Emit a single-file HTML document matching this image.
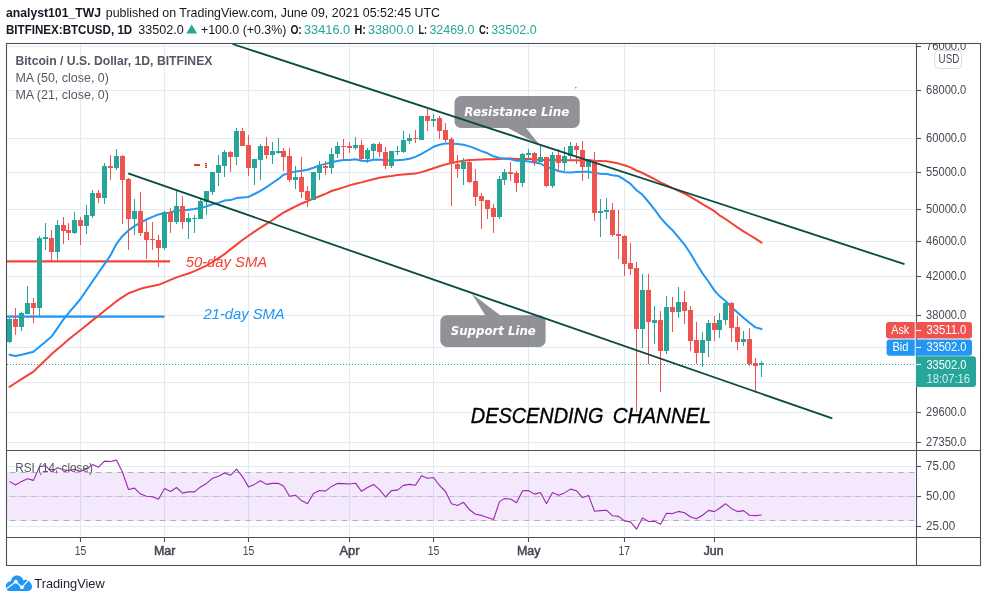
<!DOCTYPE html>
<html lang="en"><head><meta charset="utf-8"><title>BTCUSD chart</title>
<style>html,body{margin:0;padding:0;background:#fff}svg{display:block}text{font-family:"Liberation Sans",sans-serif}.dj{font-family:"DejaVu Sans","Liberation Sans",sans-serif}</style>
</head><body>
<svg width="987" height="602" viewBox="0 0 987 602">
<rect width="987" height="602" fill="#fff"/>
<defs><clipPath id="cm"><rect x="6.5" y="43.5" width="909.5" height="407"/></clipPath><clipPath id="cr"><rect x="6.5" y="450.5" width="909.5" height="87"/></clipPath></defs>
<g stroke="#e2ebf1" stroke-width="1" fill="none">
<line x1="80.5" y1="44" x2="80.5" y2="537"/>
<line x1="164.5" y1="44" x2="164.5" y2="537"/>
<line x1="248.5" y1="44" x2="248.5" y2="537"/>
<line x1="349.5" y1="44" x2="349.5" y2="537"/>
<line x1="433.5" y1="44" x2="433.5" y2="537"/>
<line x1="528.5" y1="44" x2="528.5" y2="537"/>
<line x1="624.5" y1="44" x2="624.5" y2="537"/>
<line x1="714.5" y1="44" x2="714.5" y2="537"/>
<line x1="6.5" y1="46.5" x2="916" y2="46.5"/>
<line x1="6.5" y1="90.5" x2="916" y2="90.5"/>
<line x1="6.5" y1="138.5" x2="916" y2="138.5"/>
<line x1="6.5" y1="172.5" x2="916" y2="172.5"/>
<line x1="6.5" y1="209.5" x2="916" y2="209.5"/>
<line x1="6.5" y1="241.5" x2="916" y2="241.5"/>
<line x1="6.5" y1="276.5" x2="916" y2="276.5"/>
<line x1="6.5" y1="315.5" x2="916" y2="315.5"/>
<line x1="6.5" y1="347.5" x2="916" y2="347.5"/>
<line x1="6.5" y1="382.5" x2="916" y2="382.5"/>
<line x1="6.5" y1="412.5" x2="916" y2="412.5"/>
<line x1="6.5" y1="442.5" x2="916" y2="442.5"/>
<line x1="6.5" y1="466.5" x2="916" y2="466.5"/>
<line x1="6.5" y1="496.5" x2="916" y2="496.5"/>
<line x1="6.5" y1="526.5" x2="916" y2="526.5"/>
</g>
<rect x="7" y="472" width="908" height="49" fill="#a050e8" fill-opacity="0.13"/>
<g stroke="#a9a9b4" stroke-width="0.9" stroke-dasharray="5.6,5.1" stroke-dashoffset="7.2" fill="none">
<line x1="6.5" y1="472.5" x2="915" y2="472.5"/>
<line x1="6.5" y1="496.5" x2="915" y2="496.5" stroke-opacity="0.6"/>
<line x1="6.5" y1="520.5" x2="915" y2="520.5"/>
</g>
<g clip-path="url(#cm)">
<line x1="6" y1="261.4" x2="170" y2="261.4" stroke="#f44336" stroke-width="2.2"/>
<line x1="6" y1="316.6" x2="164.5" y2="316.6" stroke="#2196f3" stroke-width="2.2"/>
<line x1="7" y1="364.5" x2="916" y2="364.5" stroke="#26a69a" stroke-width="1" stroke-dasharray="1,2" shape-rendering="crispEdges"/>
<polyline points="9.5,386.8 15.5,383 21.5,379.2 27.5,375.4 33.5,371.6 39.5,365.8 45.5,360 51.5,354.2 57.5,349 63.5,343.9 68.5,339.6 74.5,334.7 80.5,330 86.5,325.2 92.5,320.4 98.5,315.7 104.5,310.8 110.5,306 116.5,301.2 122.5,297.1 128.5,293.3 134.5,291.1 140.5,288.8 146.5,287.2 152.5,286 158.5,284.8 164.5,282.3 170.5,279.8 176.5,277.4 182.5,275.4 188.5,273.5 194.5,271.1 200.5,268.4 206.5,265.6 212.5,262 218.5,258.1 224.5,254.2 230.5,249.4 236.5,244.6 242.5,240 248.5,235.8 254.5,231.6 260.5,227.7 266.5,223.9 272.5,220 278.5,215.9 283.5,212.6 289.5,209.5 295.5,206.4 301.5,203.5 307.5,201.2 313.5,198.7 319.5,196.3 325.5,193.8 331.5,191 337.5,189.2 343.5,187.4 349.5,185.4 355.5,183.8 361.5,182.4 367.5,180.7 373.5,179.2 379.5,177.8 385.5,176.8 391.5,176 397.5,175 403.5,174.5 409.5,173.9 415.5,173.5 421.5,172.1 427.5,170.2 433.5,168.3 439.5,166.3 445.5,164.4 451.5,163.1 457.5,161.7 463.5,160.7 469.5,160 475.5,159.8 481.5,159.4 487.5,159.3 493.5,159.3 499.5,158.9 504.5,158.5 510.5,158.5 516.5,158.9 522.5,158.9 528.5,158.8 534.5,159.5 540.5,159.7 546.5,160.1 552.5,160 558.5,160.3 564.5,160.3 570.5,160.2 576.5,160.2 582.5,160.4 588.5,160 594.5,160.7 600.5,161 606.5,161.2 612.5,162.3 618.5,163.6 624.5,165.3 630.5,167.4 636.5,170.5 642.5,173 648.5,176 654.5,179.1 660.5,182.3 666.5,185.1 672.5,188.2 678.5,190.9 684.5,193.5 690.5,196.8 696.5,200.4 702.5,204.1 708.5,207.6 714.5,211.2 719.5,215.3 725.5,219 731.5,223.2 737.5,227.4 743.5,231.3 749.5,235 755.5,238.7 761.5,242.6" fill="none" stroke="#f44336" stroke-width="2" stroke-linejoin="round" stroke-linecap="round"/>
<polyline points="9.5,354.7 15.5,355.9 21.5,354.8 27.5,353.3 33.5,351.7 39.5,346.7 45.5,341.7 51.5,336.6 57.5,328.1 63.5,319.3 68.5,313.1 74.5,306.1 80.5,299 86.5,290.1 92.5,281.4 98.5,272.7 104.5,264.1 110.5,255.2 116.5,243.8 122.5,235.9 128.5,230.4 134.5,226.1 140.5,222.5 146.5,219.5 152.5,216.9 158.5,214.4 164.5,213.2 170.5,212.5 176.5,210.4 182.5,210.3 188.5,209.7 194.5,209 200.5,208.1 206.5,206.4 212.5,204.3 218.5,202.9 224.5,200.6 230.5,200.1 236.5,198.1 242.5,197.5 248.5,196.9 254.5,194 260.5,190.8 266.5,187.1 272.5,183 278.5,178.9 283.5,174.8 289.5,173.4 295.5,171.4 301.5,170.8 307.5,169.8 313.5,167.8 319.5,165.4 325.5,163.9 331.5,162.2 337.5,161 343.5,160.1 349.5,159.9 355.5,159.3 361.5,160.7 367.5,160.9 373.5,159.8 379.5,159.4 385.5,160.4 391.5,160.2 397.5,160.2 403.5,159.7 409.5,158.8 415.5,156.9 421.5,153.9 427.5,150.5 433.5,146.8 439.5,144.8 445.5,143.6 451.5,143.4 457.5,144.1 463.5,144.8 469.5,146.4 475.5,148.6 481.5,151.1 487.5,153.3 493.5,156.3 499.5,157.9 504.5,158.8 510.5,159.2 516.5,160.7 522.5,160.8 528.5,161.5 534.5,162.6 540.5,163.5 546.5,167 552.5,168.7 558.5,171 564.5,172.3 570.5,172.6 576.5,171.9 582.5,171.8 588.5,171.7 594.5,173.1 600.5,173.7 606.5,174.1 612.5,175.3 618.5,176.1 624.5,179.7 630.5,183.9 636.5,190.2 642.5,194.8 648.5,202 654.5,209.4 660.5,217.6 666.5,224.5 672.5,230.2 678.5,237.4 684.5,244.6 690.5,253.5 696.5,263.7 702.5,273.4 708.5,281.5 714.5,290.6 719.5,296.1 725.5,301 731.5,307.2 737.5,312.6 743.5,317.8 749.5,322.7 755.5,327.4 761.5,329" fill="none" stroke="#2196f3" stroke-width="2" stroke-linejoin="round" stroke-linecap="round"/>
<g stroke-width="1"><line x1="9.5" y1="318" x2="9.5" y2="343" stroke="#26a69a"/><line x1="15.5" y1="308" x2="15.5" y2="335" stroke="#ef5350"/><line x1="21.5" y1="312" x2="21.5" y2="331" stroke="#26a69a"/><line x1="27.5" y1="286" x2="27.5" y2="314" stroke="#26a69a"/><line x1="33.5" y1="298" x2="33.5" y2="323" stroke="#ef5350"/><line x1="39.5" y1="236" x2="39.5" y2="317" stroke="#26a69a"/><line x1="45.5" y1="223" x2="45.5" y2="250" stroke="#26a69a"/><line x1="51.5" y1="230" x2="51.5" y2="261" stroke="#ef5350"/><line x1="57.5" y1="220" x2="57.5" y2="260" stroke="#26a69a"/><line x1="63.5" y1="217" x2="63.5" y2="244" stroke="#ef5350"/><line x1="68.5" y1="223" x2="68.5" y2="240" stroke="#ef5350"/><line x1="74.5" y1="212" x2="74.5" y2="234" stroke="#26a69a"/><line x1="80.5" y1="217" x2="80.5" y2="245" stroke="#ef5350"/><line x1="86.5" y1="205" x2="86.5" y2="234" stroke="#26a69a"/><line x1="92.5" y1="190" x2="92.5" y2="218" stroke="#26a69a"/><line x1="98.5" y1="190" x2="98.5" y2="203" stroke="#ef5350"/><line x1="104.5" y1="163" x2="104.5" y2="204" stroke="#26a69a"/><line x1="110.5" y1="155" x2="110.5" y2="180" stroke="#ef5350"/><line x1="116.5" y1="149" x2="116.5" y2="170" stroke="#26a69a"/><line x1="122.5" y1="155" x2="122.5" y2="224" stroke="#ef5350"/><line x1="128.5" y1="178" x2="128.5" y2="250" stroke="#ef5350"/><line x1="134.5" y1="199" x2="134.5" y2="235" stroke="#26a69a"/><line x1="140.5" y1="192" x2="140.5" y2="236" stroke="#ef5350"/><line x1="146.5" y1="221" x2="146.5" y2="259" stroke="#ef5350"/><line x1="152.5" y1="222" x2="152.5" y2="250" stroke="#ef5350"/><line x1="158.5" y1="235" x2="158.5" y2="267" stroke="#ef5350"/><line x1="164.5" y1="211" x2="164.5" y2="250" stroke="#26a69a"/><line x1="170.5" y1="208" x2="170.5" y2="233" stroke="#ef5350"/><line x1="176.5" y1="190" x2="176.5" y2="224" stroke="#26a69a"/><line x1="182.5" y1="196" x2="182.5" y2="229" stroke="#ef5350"/><line x1="188.5" y1="213" x2="188.5" y2="239" stroke="#26a69a"/><line x1="194.5" y1="215" x2="194.5" y2="233" stroke="#26a69a"/><line x1="200.5" y1="198" x2="200.5" y2="219" stroke="#26a69a"/><line x1="206.5" y1="191" x2="206.5" y2="215" stroke="#26a69a"/><line x1="212.5" y1="172" x2="212.5" y2="195" stroke="#26a69a"/><line x1="218.5" y1="155" x2="218.5" y2="186" stroke="#26a69a"/><line x1="224.5" y1="150" x2="224.5" y2="177" stroke="#26a69a"/><line x1="230.5" y1="151" x2="230.5" y2="172" stroke="#ef5350"/><line x1="236.5" y1="128" x2="236.5" y2="165" stroke="#26a69a"/><line x1="242.5" y1="128" x2="242.5" y2="146" stroke="#ef5350"/><line x1="248.5" y1="135" x2="248.5" y2="176" stroke="#ef5350"/><line x1="254.5" y1="159" x2="254.5" y2="185" stroke="#26a69a"/><line x1="260.5" y1="144" x2="260.5" y2="180" stroke="#26a69a"/><line x1="266.5" y1="137" x2="266.5" y2="159" stroke="#ef5350"/><line x1="272.5" y1="142" x2="272.5" y2="164" stroke="#26a69a"/><line x1="278.5" y1="138" x2="278.5" y2="154" stroke="#26a69a"/><line x1="283.5" y1="148" x2="283.5" y2="171" stroke="#ef5350"/><line x1="289.5" y1="148" x2="289.5" y2="182" stroke="#ef5350"/><line x1="295.5" y1="166" x2="295.5" y2="189" stroke="#26a69a"/><line x1="301.5" y1="157" x2="301.5" y2="198" stroke="#ef5350"/><line x1="307.5" y1="186" x2="307.5" y2="207" stroke="#ef5350"/><line x1="313.5" y1="172" x2="313.5" y2="200" stroke="#26a69a"/><line x1="319.5" y1="161" x2="319.5" y2="180" stroke="#26a69a"/><line x1="325.5" y1="161" x2="325.5" y2="175" stroke="#ef5350"/><line x1="331.5" y1="148" x2="331.5" y2="174" stroke="#26a69a"/><line x1="337.5" y1="142" x2="337.5" y2="158" stroke="#26a69a"/><line x1="343.5" y1="139" x2="343.5" y2="160" stroke="#ef5350"/><line x1="349.5" y1="142" x2="349.5" y2="153" stroke="#ef5350"/><line x1="355.5" y1="137" x2="355.5" y2="150" stroke="#26a69a"/><line x1="361.5" y1="140" x2="361.5" y2="160" stroke="#ef5350"/><line x1="367.5" y1="148" x2="367.5" y2="163" stroke="#26a69a"/><line x1="373.5" y1="143" x2="373.5" y2="159" stroke="#26a69a"/><line x1="379.5" y1="142" x2="379.5" y2="157" stroke="#ef5350"/><line x1="385.5" y1="147" x2="385.5" y2="169" stroke="#ef5350"/><line x1="391.5" y1="151" x2="391.5" y2="168" stroke="#26a69a"/><line x1="397.5" y1="146" x2="397.5" y2="155" stroke="#26a69a"/><line x1="403.5" y1="131" x2="403.5" y2="153" stroke="#26a69a"/><line x1="409.5" y1="134" x2="409.5" y2="144" stroke="#26a69a"/><line x1="415.5" y1="130" x2="415.5" y2="143" stroke="#ef5350"/><line x1="421.5" y1="116" x2="421.5" y2="140" stroke="#26a69a"/><line x1="427.5" y1="109" x2="427.5" y2="131" stroke="#ef5350"/><line x1="433.5" y1="114" x2="433.5" y2="127" stroke="#26a69a"/><line x1="439.5" y1="116" x2="439.5" y2="139" stroke="#ef5350"/><line x1="445.5" y1="123" x2="445.5" y2="142" stroke="#ef5350"/><line x1="451.5" y1="137" x2="451.5" y2="206" stroke="#ef5350"/><line x1="457.5" y1="155" x2="457.5" y2="178" stroke="#ef5350"/><line x1="463.5" y1="158" x2="463.5" y2="185" stroke="#26a69a"/><line x1="469.5" y1="161" x2="469.5" y2="183" stroke="#ef5350"/><line x1="475.5" y1="169" x2="475.5" y2="206" stroke="#ef5350"/><line x1="481.5" y1="193" x2="481.5" y2="229" stroke="#ef5350"/><line x1="487.5" y1="200" x2="487.5" y2="219" stroke="#ef5350"/><line x1="493.5" y1="204" x2="493.5" y2="233" stroke="#ef5350"/><line x1="499.5" y1="176" x2="499.5" y2="219" stroke="#26a69a"/><line x1="504.5" y1="169" x2="504.5" y2="185" stroke="#26a69a"/><line x1="510.5" y1="162" x2="510.5" y2="181" stroke="#ef5350"/><line x1="516.5" y1="171" x2="516.5" y2="192" stroke="#ef5350"/><line x1="522.5" y1="153" x2="522.5" y2="187" stroke="#26a69a"/><line x1="528.5" y1="149" x2="528.5" y2="159" stroke="#26a69a"/><line x1="534.5" y1="152" x2="534.5" y2="166" stroke="#ef5350"/><line x1="540.5" y1="145" x2="540.5" y2="162" stroke="#26a69a"/><line x1="546.5" y1="157" x2="546.5" y2="187" stroke="#ef5350"/><line x1="552.5" y1="152" x2="552.5" y2="188" stroke="#26a69a"/><line x1="558.5" y1="149" x2="558.5" y2="171" stroke="#ef5350"/><line x1="564.5" y1="147" x2="564.5" y2="171" stroke="#26a69a"/><line x1="570.5" y1="142" x2="570.5" y2="160" stroke="#26a69a"/><line x1="576.5" y1="143" x2="576.5" y2="164" stroke="#ef5350"/><line x1="582.5" y1="141" x2="582.5" y2="181" stroke="#ef5350"/><line x1="588.5" y1="159" x2="588.5" y2="179" stroke="#26a69a"/><line x1="594.5" y1="152" x2="594.5" y2="221" stroke="#ef5350"/><line x1="600.5" y1="199" x2="600.5" y2="237" stroke="#26a69a"/><line x1="606.5" y1="198" x2="606.5" y2="219" stroke="#26a69a"/><line x1="612.5" y1="203" x2="612.5" y2="237" stroke="#ef5350"/><line x1="618.5" y1="210" x2="618.5" y2="259" stroke="#ef5350"/><line x1="624.5" y1="235" x2="624.5" y2="276" stroke="#ef5350"/><line x1="630.5" y1="243" x2="630.5" y2="275" stroke="#ef5350"/><line x1="636.5" y1="262" x2="636.5" y2="412" stroke="#ef5350"/><line x1="642.5" y1="274" x2="642.5" y2="348" stroke="#26a69a"/><line x1="648.5" y1="274" x2="648.5" y2="364" stroke="#ef5350"/><line x1="654.5" y1="306" x2="654.5" y2="344" stroke="#26a69a"/><line x1="660.5" y1="311" x2="660.5" y2="392" stroke="#ef5350"/><line x1="666.5" y1="296" x2="666.5" y2="354" stroke="#26a69a"/><line x1="672.5" y1="297" x2="672.5" y2="332" stroke="#ef5350"/><line x1="678.5" y1="287" x2="678.5" y2="318" stroke="#26a69a"/><line x1="684.5" y1="291" x2="684.5" y2="324" stroke="#ef5350"/><line x1="690.5" y1="306" x2="690.5" y2="351" stroke="#ef5350"/><line x1="696.5" y1="322" x2="696.5" y2="364" stroke="#ef5350"/><line x1="702.5" y1="332" x2="702.5" y2="367" stroke="#26a69a"/><line x1="708.5" y1="320" x2="708.5" y2="357" stroke="#26a69a"/><line x1="714.5" y1="316" x2="714.5" y2="341" stroke="#ef5350"/><line x1="719.5" y1="313" x2="719.5" y2="338" stroke="#26a69a"/><line x1="725.5" y1="300" x2="725.5" y2="325" stroke="#26a69a"/><line x1="731.5" y1="302" x2="731.5" y2="342" stroke="#ef5350"/><line x1="737.5" y1="316" x2="737.5" y2="350" stroke="#ef5350"/><line x1="743.5" y1="331" x2="743.5" y2="346" stroke="#26a69a"/><line x1="749.5" y1="328" x2="749.5" y2="366" stroke="#ef5350"/><line x1="755.5" y1="358" x2="755.5" y2="393" stroke="#ef5350"/><line x1="761.5" y1="361" x2="761.5" y2="377" stroke="#26a69a"/></g>
<g><rect x="7" y="319" width="5" height="23" fill="#26a69a"/><rect x="13" y="319" width="5" height="8" fill="#ef5350"/><rect x="19" y="313" width="5" height="14" fill="#26a69a"/><rect x="25" y="303" width="5" height="11" fill="#26a69a"/><rect x="31" y="303" width="5" height="5" fill="#ef5350"/><rect x="37" y="238" width="5" height="70" fill="#26a69a"/><rect x="43" y="237" width="5" height="2" fill="#26a69a"/><rect x="49" y="238" width="5" height="14" fill="#ef5350"/><rect x="55" y="225" width="5" height="27" fill="#26a69a"/><rect x="61" y="225" width="5" height="6" fill="#ef5350"/><rect x="66" y="230" width="5" height="3" fill="#ef5350"/><rect x="72" y="220" width="5" height="13" fill="#26a69a"/><rect x="78" y="220" width="5" height="6" fill="#ef5350"/><rect x="84" y="215" width="5" height="11" fill="#26a69a"/><rect x="90" y="193" width="5" height="23" fill="#26a69a"/><rect x="96" y="193" width="5" height="5" fill="#ef5350"/><rect x="102" y="166" width="5" height="32" fill="#26a69a"/><rect x="108" y="166" width="5" height="2" fill="#ef5350"/><rect x="114" y="156" width="5" height="12" fill="#26a69a"/><rect x="120" y="156" width="5" height="24" fill="#ef5350"/><rect x="126" y="179" width="5" height="40" fill="#ef5350"/><rect x="132" y="211" width="5" height="8" fill="#26a69a"/><rect x="138" y="211" width="5" height="22" fill="#ef5350"/><rect x="144" y="232" width="5" height="8" fill="#ef5350"/><rect x="150" y="239" width="5" height="1" fill="#ef5350"/><rect x="156" y="240" width="5" height="8" fill="#ef5350"/><rect x="162" y="212" width="5" height="36" fill="#26a69a"/><rect x="168" y="212" width="5" height="10" fill="#ef5350"/><rect x="174" y="206" width="5" height="16" fill="#26a69a"/><rect x="180" y="206" width="5" height="16" fill="#ef5350"/><rect x="186" y="218" width="5" height="4" fill="#26a69a"/><rect x="192" y="218" width="5" height="1" fill="#26a69a"/><rect x="198" y="201" width="5" height="18" fill="#26a69a"/><rect x="204" y="191" width="5" height="11" fill="#26a69a"/><rect x="210" y="172" width="5" height="20" fill="#26a69a"/><rect x="216" y="165" width="5" height="8" fill="#26a69a"/><rect x="222" y="152" width="5" height="14" fill="#26a69a"/><rect x="228" y="152" width="5" height="5" fill="#ef5350"/><rect x="234" y="131" width="5" height="26" fill="#26a69a"/><rect x="240" y="131" width="5" height="15" fill="#ef5350"/><rect x="246" y="145" width="5" height="23" fill="#ef5350"/><rect x="252" y="159" width="5" height="9" fill="#26a69a"/><rect x="258" y="146" width="5" height="14" fill="#26a69a"/><rect x="264" y="146" width="5" height="9" fill="#ef5350"/><rect x="270" y="151" width="5" height="4" fill="#26a69a"/><rect x="276" y="151" width="5" height="2" fill="#26a69a"/><rect x="281" y="151" width="5" height="6" fill="#ef5350"/><rect x="287" y="156" width="5" height="24" fill="#ef5350"/><rect x="293" y="177" width="5" height="3" fill="#26a69a"/><rect x="299" y="177" width="5" height="15" fill="#ef5350"/><rect x="305" y="191" width="5" height="9" fill="#ef5350"/><rect x="311" y="172" width="5" height="28" fill="#26a69a"/><rect x="317" y="166" width="5" height="7" fill="#26a69a"/><rect x="323" y="166" width="5" height="2" fill="#ef5350"/><rect x="329" y="154" width="5" height="14" fill="#26a69a"/><rect x="335" y="146" width="5" height="8" fill="#26a69a"/><rect x="341" y="146" width="5" height="1" fill="#ef5350"/><rect x="347" y="146" width="5" height="2" fill="#ef5350"/><rect x="353" y="145" width="5" height="3" fill="#26a69a"/><rect x="359" y="145" width="5" height="14" fill="#ef5350"/><rect x="365" y="150" width="5" height="9" fill="#26a69a"/><rect x="371" y="144" width="5" height="7" fill="#26a69a"/><rect x="377" y="144" width="5" height="8" fill="#ef5350"/><rect x="383" y="152" width="5" height="14" fill="#ef5350"/><rect x="389" y="151" width="5" height="15" fill="#26a69a"/><rect x="395" y="151" width="5" height="1" fill="#26a69a"/><rect x="401" y="140" width="5" height="12" fill="#26a69a"/><rect x="407" y="138" width="5" height="3" fill="#26a69a"/><rect x="413" y="138" width="5" height="1" fill="#ef5350"/><rect x="419" y="116" width="5" height="24" fill="#26a69a"/><rect x="425" y="116" width="5" height="5" fill="#ef5350"/><rect x="431" y="119" width="5" height="2" fill="#26a69a"/><rect x="437" y="118" width="5" height="13" fill="#ef5350"/><rect x="443" y="130" width="5" height="10" fill="#ef5350"/><rect x="449" y="139" width="5" height="25" fill="#ef5350"/><rect x="455" y="164" width="5" height="5" fill="#ef5350"/><rect x="461" y="162" width="5" height="7" fill="#26a69a"/><rect x="467" y="162" width="5" height="20" fill="#ef5350"/><rect x="473" y="181" width="5" height="16" fill="#ef5350"/><rect x="479" y="196" width="5" height="5" fill="#ef5350"/><rect x="485" y="200" width="5" height="9" fill="#ef5350"/><rect x="491" y="208" width="5" height="9" fill="#ef5350"/><rect x="497" y="179" width="5" height="38" fill="#26a69a"/><rect x="502" y="172" width="5" height="8" fill="#26a69a"/><rect x="508" y="172" width="5" height="2" fill="#ef5350"/><rect x="514" y="173" width="5" height="10" fill="#ef5350"/><rect x="520" y="154" width="5" height="29" fill="#26a69a"/><rect x="526" y="153" width="5" height="2" fill="#26a69a"/><rect x="532" y="153" width="5" height="9" fill="#ef5350"/><rect x="538" y="157" width="5" height="5" fill="#26a69a"/><rect x="544" y="157" width="5" height="29" fill="#ef5350"/><rect x="550" y="155" width="5" height="31" fill="#26a69a"/><rect x="556" y="155" width="5" height="8" fill="#ef5350"/><rect x="562" y="156" width="5" height="7" fill="#26a69a"/><rect x="568" y="146" width="5" height="10" fill="#26a69a"/><rect x="574" y="146" width="5" height="4" fill="#ef5350"/><rect x="580" y="150" width="5" height="17" fill="#ef5350"/><rect x="586" y="160" width="5" height="7" fill="#26a69a"/><rect x="592" y="160" width="5" height="53" fill="#ef5350"/><rect x="598" y="211" width="5" height="2" fill="#26a69a"/><rect x="604" y="210" width="5" height="2" fill="#26a69a"/><rect x="610" y="210" width="5" height="25" fill="#ef5350"/><rect x="616" y="234" width="5" height="2" fill="#ef5350"/><rect x="622" y="236" width="5" height="28" fill="#ef5350"/><rect x="628" y="263" width="5" height="6" fill="#ef5350"/><rect x="634" y="268" width="5" height="61" fill="#ef5350"/><rect x="640" y="290" width="5" height="39" fill="#26a69a"/><rect x="646" y="290" width="5" height="32" fill="#ef5350"/><rect x="652" y="320" width="5" height="3" fill="#26a69a"/><rect x="658" y="320" width="5" height="31" fill="#ef5350"/><rect x="664" y="307" width="5" height="44" fill="#26a69a"/><rect x="670" y="307" width="5" height="5" fill="#ef5350"/><rect x="676" y="302" width="5" height="10" fill="#26a69a"/><rect x="682" y="302" width="5" height="9" fill="#ef5350"/><rect x="688" y="310" width="5" height="31" fill="#ef5350"/><rect x="694" y="340" width="5" height="13" fill="#ef5350"/><rect x="700" y="340" width="5" height="13" fill="#26a69a"/><rect x="706" y="323" width="5" height="18" fill="#26a69a"/><rect x="712" y="323" width="5" height="7" fill="#ef5350"/><rect x="717" y="320" width="5" height="10" fill="#26a69a"/><rect x="723" y="303" width="5" height="17" fill="#26a69a"/><rect x="729" y="303" width="5" height="25" fill="#ef5350"/><rect x="735" y="327" width="5" height="15" fill="#ef5350"/><rect x="741" y="339" width="5" height="3" fill="#26a69a"/><rect x="747" y="339" width="5" height="25" fill="#ef5350"/><rect x="753" y="363" width="5" height="3" fill="#ef5350"/><rect x="759" y="363" width="5" height="2" fill="#26a69a"/></g>
<rect x="194" y="164" width="6" height="2" fill="#f0352b"/>
<g fill="#f0352b"><rect x="205" y="163" width="2" height="1.4"/><rect x="205" y="164.9" width="2" height="1.3"/><rect x="205" y="166.6" width="2" height="1.4"/></g>
<circle cx="575.8" cy="87.8" r="0.8" fill="#26a69a"/>
<g fill="#76777d" fill-opacity="0.8">
<path d="M461,96 H573.2 a6.5,6.5 0 0 1 6.5,6.5 V121.5 a6.5,6.5 0 0 1 -6.5,6.5 H526 L539.7,145 L508,128 H461 a6.5,6.5 0 0 1 -6.5,-6.5 V102.5 a6.5,6.5 0 0 1 6.5,-6.5 Z"/>
<path d="M446.8,315.2 H485.2 L471.9,293.8 L500.2,315.2 H539.1 a6.5,6.5 0 0 1 6.5,6.5 V340.4 a6.5,6.5 0 0 1 -6.5,6.5 H446.8 a6.5,6.5 0 0 1 -6.5,-6.5 V321.7 a6.5,6.5 0 0 1 6.5,-6.5 Z"/>
</g>
<line x1="232.5" y1="44" x2="904.5" y2="264.2" stroke="#0b4a3f" stroke-width="1.8"/>
<line x1="128.2" y1="173.3" x2="832.3" y2="418.4" stroke="#0b4a3f" stroke-width="1.8"/>
<text class="dj" x="464.3" y="115.8" font-size="12" font-weight="bold" font-style="italic" fill="#fff" textLength="105" lengthAdjust="spacingAndGlyphs">Resistance Line</text>
<text class="dj" x="450.8" y="334.8" font-size="12" font-weight="bold" font-style="italic" fill="#fff" textLength="85" lengthAdjust="spacingAndGlyphs">Support Line</text>
<text x="185.7" y="266.8" font-size="15" font-style="italic" fill="#f44336" textLength="81.5" lengthAdjust="spacingAndGlyphs">50-day SMA</text>
<text x="203.5" y="318.9" font-size="15" font-style="italic" fill="#2196f3" textLength="81.2" lengthAdjust="spacingAndGlyphs">21-day SMA</text>
<text y="422.7" font-size="22.5" font-style="italic" fill="#000" stroke="#000" stroke-width="0.35"><tspan x="470.8" textLength="132.6" lengthAdjust="spacingAndGlyphs">DESCENDING</tspan><tspan> </tspan><tspan x="612.7" textLength="98.3" lengthAdjust="spacingAndGlyphs">CHANNEL</tspan></text>
<text x="15.4" y="64.5" font-size="12" font-weight="bold" fill="#555862" textLength="197" lengthAdjust="spacingAndGlyphs">Bitcoin / U.S. Dollar, 1D, BITFINEX</text>
<text x="15.4" y="82" font-size="12" fill="#555862" textLength="93.5" lengthAdjust="spacingAndGlyphs">MA (50, close, 0)</text>
<text x="15.4" y="98.8" font-size="12" fill="#555862" textLength="93.5" lengthAdjust="spacingAndGlyphs">MA (21, close, 0)</text>
</g>
<g clip-path="url(#cr)">
<polyline points="9.5,481.4 15.5,485 21.5,481.4 27.5,478.7 33.5,480.4 39.5,466.6 45.5,465.8 51.5,471.9 57.5,467.8 63.5,469.8 68.5,470.6 74.5,469.2 80.5,471.2 86.5,469.2 92.5,464.6 98.5,467.2 104.5,461.1 110.5,461.5 116.5,460.1 122.5,472.3 128.5,489.5 134.5,488.1 140.5,494.1 146.5,496.2 152.5,496.8 158.5,499.2 164.5,488.5 170.5,491.5 176.5,487.5 182.5,493.1 188.5,491.9 194.5,491.9 200.5,486.9 206.5,483.4 212.5,478.3 218.5,476.3 224.5,472.9 230.5,475.3 236.5,469.2 242.5,476.7 248.5,486.9 254.5,484.4 260.5,480.8 266.5,484.4 272.5,483.4 278.5,483.4 283.5,486 289.5,496.2 295.5,495.2 301.5,500.6 307.5,503.7 313.5,493.5 319.5,490.5 325.5,491.1 331.5,486.4 337.5,483.4 343.5,483.6 349.5,484 355.5,483.2 361.5,491.3 367.5,487.5 373.5,484.4 379.5,489.7 385.5,497 391.5,490.6 397.5,490.1 403.5,485.4 409.5,484.4 415.5,485.2 421.5,475.7 427.5,478.3 433.5,477.5 439.5,485.4 445.5,491.5 451.5,503.7 457.5,505.5 463.5,502.3 469.5,509.7 475.5,514.2 481.5,515.4 487.5,517.5 493.5,519.5 499.5,501.6 504.5,498.6 510.5,499 516.5,502.7 522.5,490.9 528.5,490.5 534.5,494.1 540.5,492.5 546.5,503.7 552.5,492.5 558.5,495.2 564.5,492.9 570.5,489.1 576.5,490.7 582.5,497.6 588.5,495.4 594.5,511.2 600.5,510.6 606.5,510.2 612.5,515.8 618.5,516.4 624.5,520.9 630.5,521.9 636.5,529.2 642.5,517.9 648.5,521.5 654.5,521.3 660.5,524.3 666.5,513.2 672.5,513.6 678.5,511.4 684.5,512.8 690.5,517 696.5,518.7 702.5,515.2 708.5,510.4 714.5,511.6 719.5,508.3 725.5,503.7 731.5,508.7 737.5,511.6 743.5,510.6 749.5,515.2 755.5,515.6 761.5,515" fill="none" stroke="#9c27b0" stroke-width="1.1" stroke-linejoin="round"/>
<text x="15.3" y="471.8" font-size="12" fill="#555862" textLength="77.5" lengthAdjust="spacingAndGlyphs">RSI (14, close)</text>
</g>
<g stroke="#4c505c" stroke-width="1.1" fill="none">
<rect x="6.5" y="43.5" width="974" height="522"/>
<line x1="916.5" y1="43.5" x2="916.5" y2="565.5"/>
<line x1="6.5" y1="450.5" x2="980.5" y2="450.5"/>
<line x1="6.5" y1="537.5" x2="980.5" y2="537.5"/>
<line x1="916.5" y1="46.5" x2="921" y2="46.5"/>
<line x1="916.5" y1="90.5" x2="921" y2="90.5"/>
<line x1="916.5" y1="138.5" x2="921" y2="138.5"/>
<line x1="916.5" y1="172.5" x2="921" y2="172.5"/>
<line x1="916.5" y1="209.5" x2="921" y2="209.5"/>
<line x1="916.5" y1="241.5" x2="921" y2="241.5"/>
<line x1="916.5" y1="276.5" x2="921" y2="276.5"/>
<line x1="916.5" y1="315.5" x2="921" y2="315.5"/>
<line x1="916.5" y1="412.5" x2="921" y2="412.5"/>
<line x1="916.5" y1="442.5" x2="921" y2="442.5"/>
<line x1="916.5" y1="466.5" x2="921" y2="466.5"/>
<line x1="916.5" y1="496.5" x2="921" y2="496.5"/>
<line x1="916.5" y1="526.5" x2="921" y2="526.5"/>
<line x1="80.5" y1="537.5" x2="80.5" y2="542"/>
<line x1="164.5" y1="537.5" x2="164.5" y2="542"/>
<line x1="248.5" y1="537.5" x2="248.5" y2="542"/>
<line x1="349.5" y1="537.5" x2="349.5" y2="542"/>
<line x1="433.5" y1="537.5" x2="433.5" y2="542"/>
<line x1="528.5" y1="537.5" x2="528.5" y2="542"/>
<line x1="624.5" y1="537.5" x2="624.5" y2="542"/>
<line x1="714.5" y1="537.5" x2="714.5" y2="542"/>
</g>
<clipPath id="ca"><rect x="917" y="44.1" width="63" height="406"/></clipPath><g clip-path="url(#ca)">
<text x="926.1" y="50.4" font-size="12" fill="#454854" textLength="40.2" lengthAdjust="spacingAndGlyphs">76000.0</text>
<text x="926.1" y="94.4" font-size="12" fill="#454854" textLength="40.2" lengthAdjust="spacingAndGlyphs">68000.0</text>
<text x="926.1" y="142.4" font-size="12" fill="#454854" textLength="40.2" lengthAdjust="spacingAndGlyphs">60000.0</text>
<text x="926.1" y="176.4" font-size="12" fill="#454854" textLength="40.2" lengthAdjust="spacingAndGlyphs">55000.0</text>
<text x="926.1" y="213.4" font-size="12" fill="#454854" textLength="40.2" lengthAdjust="spacingAndGlyphs">50000.0</text>
<text x="926.1" y="245.4" font-size="12" fill="#454854" textLength="40.2" lengthAdjust="spacingAndGlyphs">46000.0</text>
<text x="926.1" y="280.4" font-size="12" fill="#454854" textLength="40.2" lengthAdjust="spacingAndGlyphs">42000.0</text>
<text x="926.1" y="319.4" font-size="12" fill="#454854" textLength="40.2" lengthAdjust="spacingAndGlyphs">38000.0</text>
<text x="926.1" y="416.4" font-size="12" fill="#454854" textLength="40.2" lengthAdjust="spacingAndGlyphs">29600.0</text>
<text x="926.1" y="446.4" font-size="12" fill="#454854" textLength="40.2" lengthAdjust="spacingAndGlyphs">27350.0</text>
</g>
<text x="926.1" y="470.4" font-size="12" fill="#454854" textLength="29" lengthAdjust="spacingAndGlyphs">75.00</text>
<text x="926.1" y="500.4" font-size="12" fill="#454854" textLength="29" lengthAdjust="spacingAndGlyphs">50.00</text>
<text x="926.1" y="530.4" font-size="12" fill="#454854" textLength="29" lengthAdjust="spacingAndGlyphs">25.00</text>
<rect x="934.8" y="50.5" width="26.8" height="18" rx="4" fill="#fff" stroke="#d6d9e0" stroke-width="1"/>
<text x="938.6" y="62.9" font-size="12" fill="#454854" textLength="20.6" lengthAdjust="spacingAndGlyphs">USD</text>
<path d="M889,322 H914.7 V338.6 H889 a3,3 0 0 1 -3,-3 V325 a3,3 0 0 1 3,-3 Z" fill="#ef5350"/>
<path d="M915.7,322 H969 a3,3 0 0 1 3,3 V335.6 a3,3 0 0 1 -3,3 H915.7 Z" fill="#ef5350"/>
<path d="M889.6,339.5 H914.7 V355.8 H889.6 a3,3 0 0 1 -3,-3 V342.5 a3,3 0 0 1 3,-3 Z" fill="#2196f3"/>
<path d="M915.7,339.5 H969 a3,3 0 0 1 3,3 V352.8 a3,3 0 0 1 -3,3 H915.7 Z" fill="#2196f3"/>
<path d="M916,356.3 H973 a3,3 0 0 1 3,3 V384 a3,3 0 0 1 -3,3 H916 Z" fill="#26a69a"/>
<g stroke="#fff" stroke-width="1.1"><line x1="916.2" y1="330.5" x2="921" y2="330.5"/><line x1="916.2" y1="347.5" x2="921" y2="347.5"/><line x1="916.2" y1="364.5" x2="921" y2="364.5"/></g>
<g fill="#fff" font-size="12">
<text x="891.2" y="334.3" textLength="18" lengthAdjust="spacingAndGlyphs">Ask</text>
<text x="892.4" y="351.3" textLength="16" lengthAdjust="spacingAndGlyphs">Bid</text>
<text x="926.4" y="334.3" textLength="40" lengthAdjust="spacingAndGlyphs">33511.0</text>
<text x="926.4" y="351.3" textLength="40" lengthAdjust="spacingAndGlyphs">33502.0</text>
<text x="926.4" y="368.6" textLength="40" lengthAdjust="spacingAndGlyphs">33502.0</text>
<text x="926.6" y="382.8" fill-opacity="0.8" textLength="43.4" lengthAdjust="spacingAndGlyphs">18:07:16</text>
</g>
<text x="80.5" y="554.6" font-size="12" fill="#454854" text-anchor="middle" textLength="11.6" lengthAdjust="spacingAndGlyphs">15</text>
<text x="164.7" y="554.6" font-size="12" fill="#454854" text-anchor="middle" stroke="#454854" stroke-width="0.5" textLength="21.5" lengthAdjust="spacingAndGlyphs">Mar</text>
<text x="248.5" y="554.6" font-size="12" fill="#454854" text-anchor="middle" textLength="11.6" lengthAdjust="spacingAndGlyphs">15</text>
<text x="349.5" y="554.6" font-size="12" fill="#454854" text-anchor="middle" stroke="#454854" stroke-width="0.5" textLength="20" lengthAdjust="spacingAndGlyphs">Apr</text>
<text x="433.5" y="554.6" font-size="12" fill="#454854" text-anchor="middle" textLength="11.6" lengthAdjust="spacingAndGlyphs">15</text>
<text x="528.7" y="554.6" font-size="12" fill="#454854" text-anchor="middle" stroke="#454854" stroke-width="0.5" textLength="23.5" lengthAdjust="spacingAndGlyphs">May</text>
<text x="624.3" y="554.6" font-size="12" fill="#454854" text-anchor="middle" textLength="11.6" lengthAdjust="spacingAndGlyphs">17</text>
<text x="713.6" y="554.6" font-size="12" fill="#454854" text-anchor="middle" stroke="#454854" stroke-width="0.5" textLength="19.8" lengthAdjust="spacingAndGlyphs">Jun</text>
<text x="6" y="17" font-size="13" font-weight="bold" fill="#131722" textLength="95" lengthAdjust="spacingAndGlyphs">analyst101_TWJ</text>
<text x="105.8" y="17" font-size="13" fill="#131722" textLength="334.2" lengthAdjust="spacingAndGlyphs">published on TradingView.com, June 09, 2021 05:52:45 UTC</text>
<text x="6" y="33.8" font-size="13" font-weight="bold" fill="#131722" textLength="126.2" lengthAdjust="spacingAndGlyphs">BITFINEX:BTCUSD, 1D</text>
<text x="138.2" y="33.8" font-size="13" fill="#131722" textLength="45.6" lengthAdjust="spacingAndGlyphs">33502.0</text>
<path d="M186.3,33.6 L191.7,24.4 L197.1,33.6 Z" fill="#26a69a"/>
<text x="201" y="33.8" font-size="13" fill="#131722" textLength="85.4" lengthAdjust="spacingAndGlyphs">+100.0 (+0.3%)</text>
<text x="290.4" y="33.8" font-size="13" font-weight="bold" fill="#131722" textLength="11.4" lengthAdjust="spacingAndGlyphs">O:</text>
<text x="304" y="33.8" font-size="13" fill="#26a69a" textLength="46.2" lengthAdjust="spacingAndGlyphs">33416.0</text>
<text x="354.5" y="33.8" font-size="13" font-weight="bold" fill="#131722" textLength="11.4" lengthAdjust="spacingAndGlyphs">H:</text>
<text x="367.9" y="33.8" font-size="13" fill="#26a69a" textLength="46" lengthAdjust="spacingAndGlyphs">33800.0</text>
<text x="418.4" y="33.8" font-size="13" font-weight="bold" fill="#131722" textLength="8.5" lengthAdjust="spacingAndGlyphs">L:</text>
<text x="429.4" y="33.8" font-size="13" fill="#26a69a" textLength="45" lengthAdjust="spacingAndGlyphs">32469.0</text>
<text x="479" y="33.8" font-size="13" font-weight="bold" fill="#131722" textLength="10" lengthAdjust="spacingAndGlyphs">C:</text>
<text x="491.3" y="33.8" font-size="13" fill="#26a69a" textLength="45.4" lengthAdjust="spacingAndGlyphs">33502.0</text>
<g>
<path d="M8.7,590.9 H28 C30.4,590.9 32.1,589 32.1,586.8 C32.1,584.5 30,582 28.3,580.3 C27.5,579.7 25,579.5 23.3,580.4 C22.6,577.6 20,575.6 16.9,575.6 C13.7,575.6 11.2,578 11,581.2 C8,581.2 5.9,583.4 5.9,586 C5.9,588.8 7.2,590.9 8.7,590.9 Z" fill="#2196f3"/>
<path d="M6.2,588.9 L15.8,581.7 L21.9,587.3 L28.6,579.9" fill="none" stroke="#fff" stroke-width="1.25" stroke-linejoin="round"/>
<circle cx="15.8" cy="581.7" r="1.9" fill="#fff"/><circle cx="21.9" cy="587.3" r="1.9" fill="#fff"/>
<text x="34.3" y="587.5" font-size="13" fill="#1c2030" textLength="70.4" lengthAdjust="spacingAndGlyphs">TradingView</text>
</g>
</svg></body></html>
